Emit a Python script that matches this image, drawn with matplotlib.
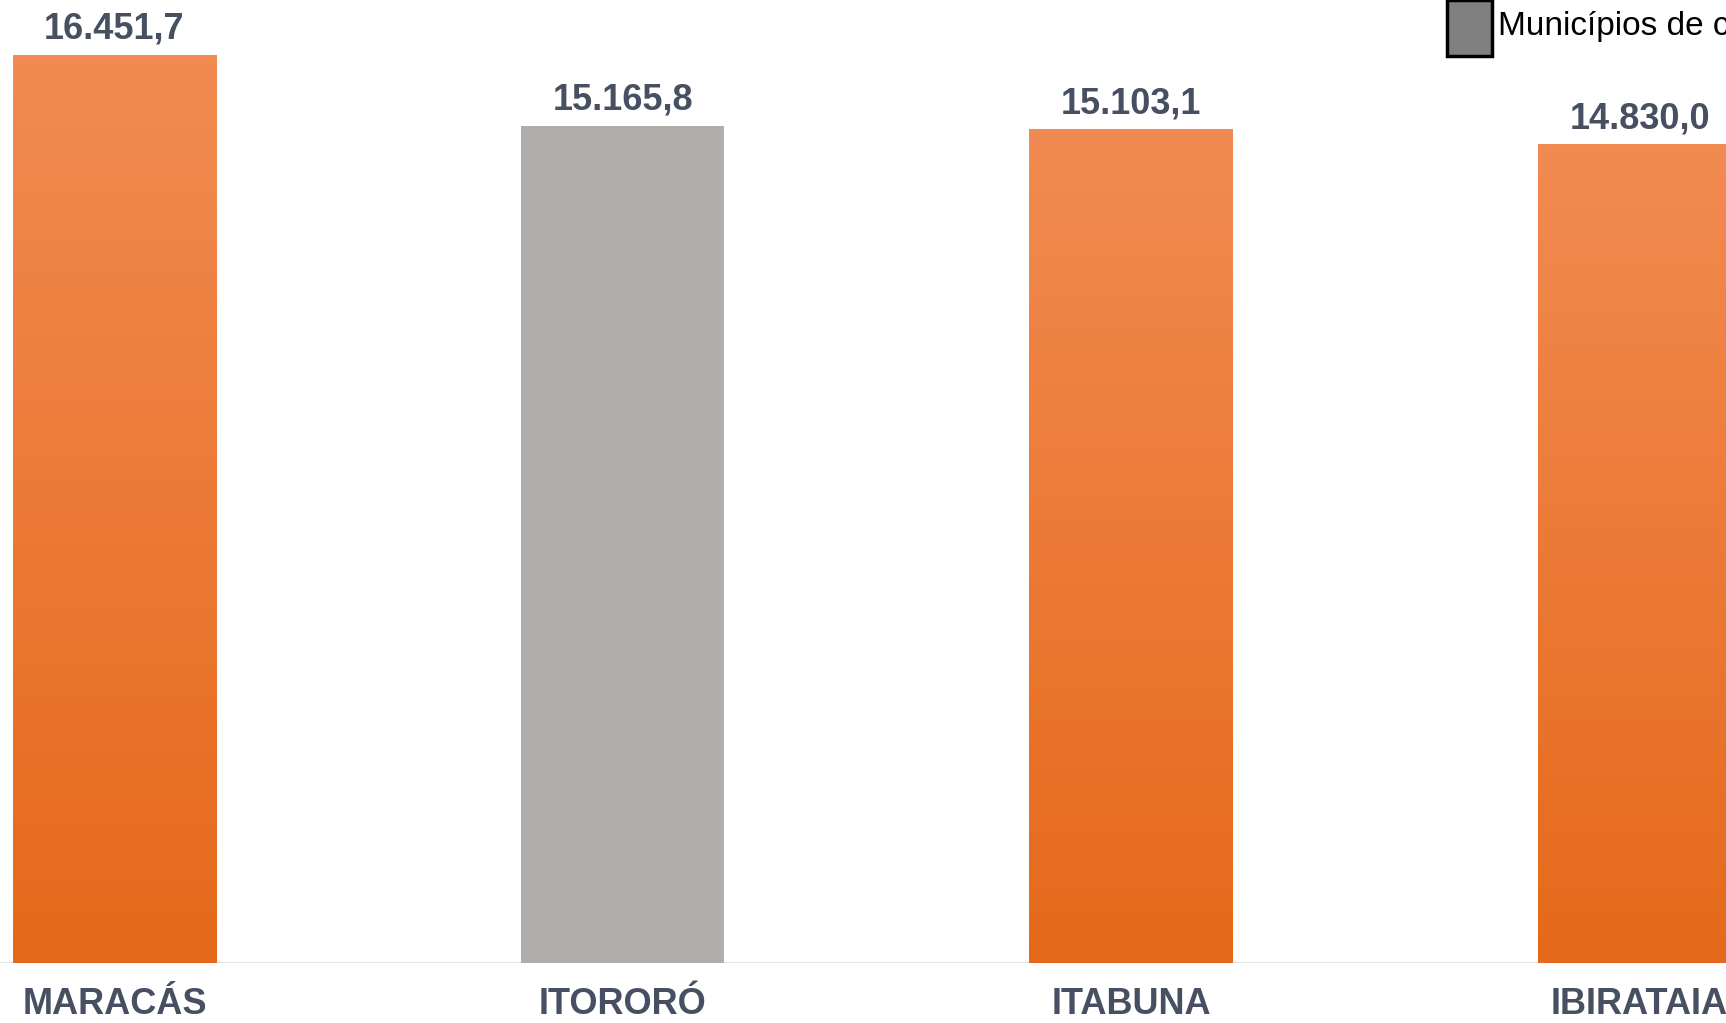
import matplotlib
matplotlib.use('Agg')
import numpy as np
import matplotlib.pyplot as plt
from matplotlib.colors import LinearSegmentedColormap
from matplotlib.patches import Rectangle

# dados
municipios = ['MARACÁS', 'ITORORÓ', 'ITABUNA', 'IBIRATAIA']
valores = [16451.7, 15165.8, 15103.1, 14830.0]
destaque = [False, True, False, False]  # município em cinza
rotulos = ['16.451,7', '15.165,8', '15.103,1', '14.830,0']
legenda_txt = 'Municípios de comparação'

plt.rcParams['font.family'] = ['Liberation Sans', 'DejaVu Sans']

LABEL_COLOR = '#465062'
GRAY = '#b0adaa'
laranja = LinearSegmentedColormap.from_list('laranja', ['#e5691a', '#f28b52'])

fig = plt.figure(figsize=(17.26, 10.23), dpi=100)
ax = fig.add_axes([0, 60 / 1023, 1, 963 / 1023])

xs = np.arange(len(municipios))
bars = ax.bar(xs, valores, width=0.4,
              color=[GRAY if d else 'none' for d in destaque], zorder=2)

ax.set_xlim(-0.225, 3.170)
ax.set_ylim(0, 17448)

grad = np.linspace(0, 1, 256).reshape(-1, 1)
for b, d in zip(bars, destaque):
    if d:
        continue
    x0, w, h = b.get_x(), b.get_width(), b.get_height()
    im = ax.imshow(grad, cmap=laranja, aspect='auto', origin='lower',
                   extent=[x0, x0 + w, 0, h], zorder=2)
    im.set_clip_path(b)

for x, v, r in zip(xs, valores, rotulos):
    ax.annotate(r, (x, v), xytext=(0, 18.5), textcoords='offset points',
                ha='center', va='center', fontsize=26, fontweight='bold',
                color=LABEL_COLOR)

ax.axhline(0, color='#e4e4e4', lw=1.5, zorder=1)

ax.set_xticks(xs)
ax.set_xticklabels(municipios, fontsize=26, fontweight='bold', color=LABEL_COLOR)
ax.tick_params(axis='x', length=0, pad=17)
ax.set_yticks([])
for s in ax.spines.values():
    s.set_visible(False)

# legenda (cortada na borda direita, como na imagem original)
fig.patches.append(Rectangle((1447 / 1726, 1 - 56 / 1023), 45 / 1726, 56 / 1023,
                             transform=fig.transFigure, facecolor='#808080',
                             edgecolor='black', lw=2.5))
fig.text(1498 / 1726, 1 - 26 / 1023, legenda_txt, fontsize=24,
         ha='left', va='center', color='black')

fig.savefig('out.png', dpi=100)
